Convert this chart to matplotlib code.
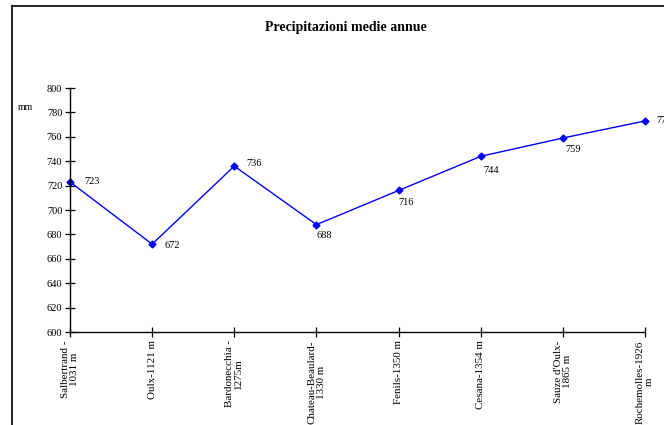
import matplotlib
matplotlib.use("Agg")
import matplotlib.pyplot as plt
from matplotlib.lines import Line2D

plt.rcParams["font.family"] = ["Liberation Serif", "DejaVu Serif"]

stations = [
    "Salbertrand -\n1031 m",
    "Oulx-1121 m",
    "Bardonecchia -\n1275m",
    "Chateau-Beaulard-\n1330 m",
    "Fenils-1350 m",
    "Cesana-1354 m",
    "Sauze d'Oulx-\n1865 m",
    "Rochemolles-1926\nm",
]
precip_mm = [723, 672, 736, 688, 716, 744, 759, 773]
y_ticks = list(range(600, 801, 20))

# data label offsets in points (dx, dy)
label_offsets = [(10, 0), (9, -1), (9, 2), (0, -8), (0, -9), (2, -10), (2, -8), (8, 0)]

fig = plt.figure(figsize=(6.64, 4.25), dpi=100)

# outer chart frame (top and left edges only show)
fig.add_artist(Line2D([12 / 664, 1], [1 - 6 / 425, 1 - 6 / 425], color="black", lw=1.2))
fig.add_artist(Line2D([12 / 664, 12 / 664], [0, 1 - 6 / 425], color="black", lw=1.2))

ax = fig.add_axes([70 / 664, 1 - 332 / 425, (645 - 70) / 664, (332 - 88) / 425])
x = range(len(stations))
ax.plot(x, precip_mm, color="#0000FF", lw=1, marker="D", ms=3.5, clip_on=False)

for xi, v, (dx, dy) in zip(x, precip_mm, label_offsets):
    ax.annotate(str(v), (xi, v), xytext=(dx, dy), textcoords="offset points",
                ha="left", va="center", fontsize=7.5, annotation_clip=False)

ax.set_xlim(0, len(stations) - 1)
ax.set_ylim(600, 800)
ax.set_yticks(y_ticks)
ax.set_xticks(list(x))
ax.set_xticklabels(stations, rotation=90, ha="center", va="top",
                   multialignment="center", fontsize=7.9, linespacing=1.05)

for side in ("top", "right"):
    ax.spines[side].set_visible(False)
for side in ("left", "bottom"):
    ax.spines[side].set_linewidth(1.0)

ax.tick_params(axis="both", direction="inout", length=7, width=0.9)
ax.tick_params(axis="y", labelsize=7.5, pad=2)
ax.tick_params(axis="x", pad=2.5)

fig.text(346 / 664, 1 - 27 / 425, "Precipitazioni medie annue", ha="center", va="center",
         fontsize=10, fontweight="bold")
fig.text(25 / 664, 1 - 108 / 425, "mm", ha="center", va="center", fontsize=7)

fig.savefig("out.png", dpi=100)
